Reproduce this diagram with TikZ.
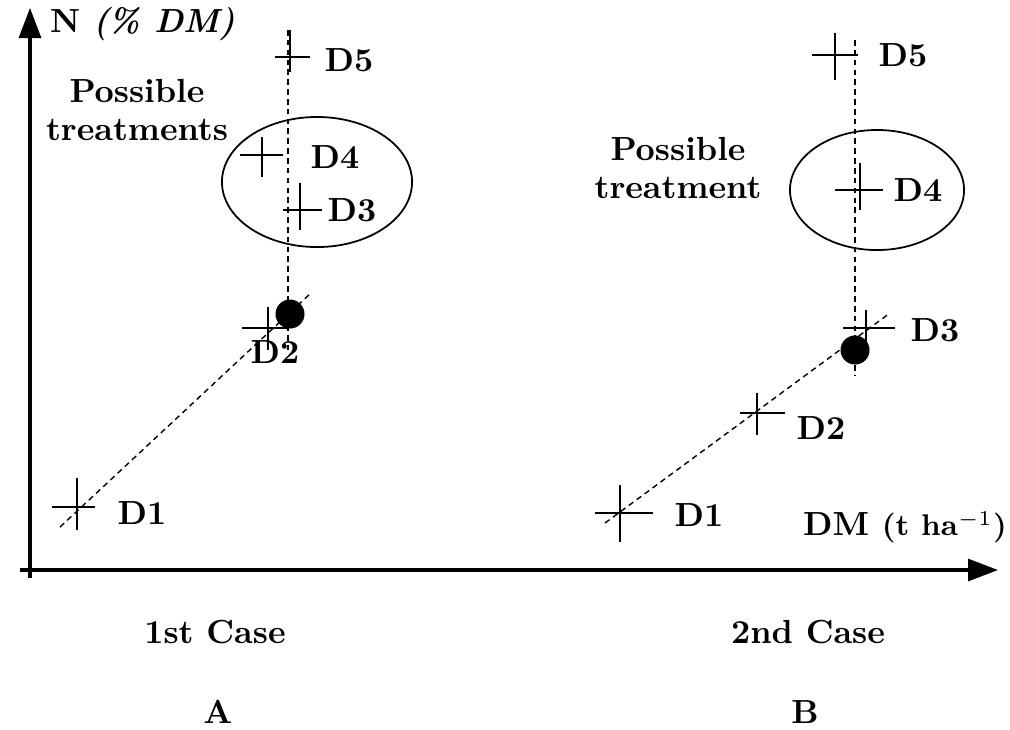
\documentclass[tikz,border=0pt]{standalone}
\usepackage{amsmath}
\usepackage{tikz}
\usetikzlibrary{arrows.meta,shapes.geometric}

\tikzset{
  axisline/.style={line width=0.9pt, -{Triangle[length=3mm,width=2.2mm]}},
  crossarm/.style={line width=0.45pt},
  guide/.style={line width=0.4pt, dash pattern=on 1.6pt off 1.2pt},
  ptlabel/.style={font=\fontsize{9.5}{11}\selectfont\bfseries, inner sep=1pt},
  txt/.style={font=\fontsize{9.5}{11}\selectfont\bfseries, align=center, inner sep=1pt},
  blob/.style={circle, fill, inner sep=0pt, minimum size=0.29cm},
  zone/.style={ellipse, draw, line width=0.5pt, inner sep=0pt}
}

\begin{document}
\begin{tikzpicture}[x=0.01cm, y=-0.01cm]
    \useasboundingbox (0,0) rectangle (1010,729);

        \coordinate (o) at (30,570);
        \coordinate (ytop) at (30,8);
        \coordinate (xstart) at (20,570);
        \coordinate (xend) at (998,570);
        \draw[axisline] (30,578) -- (ytop);
        \draw[axisline] (xstart) -- (xend);

        \node[txt, anchor=west] (ylab) at (46,24) {N \textit{(\% DM)}};
        \node[txt] (xlab) at (905,527) {DM {\fontsize{8.5}{10}\selectfont (t ha$^{-1}$)}};

        \node[zone, minimum width=1.9cm, minimum height=1.3cm] (setA) at (317,182) {};
        \node[zone, minimum width=1.74cm, minimum height=1.2cm] (setB) at (877,190) {};

        \coordinate (a1) at (77,507);
        \coordinate (a2) at (268,328);
        \coordinate (a3) at (300,210);
        \coordinate (a4) at (262,155);
        \coordinate (a5) at (290,57);
        \coordinate (atop) at (288,30);
        \coordinate (abot) at (288,350);
        \coordinate (alow) at (60,527);
        \coordinate (ahigh) at (312,292);
        \node[blob] (adot) at (290,314) {};

        \coordinate (b1) at (620,513);
        \coordinate (b2) at (757,413);
        \coordinate (b3) at (866,328);
        \coordinate (b4) at (860,190);
        \coordinate (b5) at (835,55);
        \coordinate (btop) at (855,40);
        \coordinate (bbot) at (855,375);
        \coordinate (blow) at (605,523);
        \coordinate (bhigh) at (890,313);
        \node[blob] (bdot) at (855,350) {};

        \draw[guide] (atop) -- (abot);
        \draw[guide] (alow) -- (ahigh);
        \draw[guide] (btop) -- (bbot);
        \draw[guide] (blow) -- (bhigh);

        \draw[crossarm] (a1) +(-25,0) -- +(18,0) +(0,-29) -- +(0,23);
        \draw[crossarm] (a2) +(-26,0) -- +(20,0) +(0,-21) -- +(0,22);
        \draw[crossarm] (a3) +(-17,0) -- +(22,0) +(0,-27) -- +(0,20);
        \draw[crossarm] (a4) +(-22,0) -- +(21,0) +(0,-18) -- +(0,22);
        \draw[crossarm] (a5) +(-15,0) -- +(20,0) +(0,-27) -- +(0,15);
        \draw[crossarm] (b1) +(-25,0) -- +(33,0) +(0,-28) -- +(0,29);
        \draw[crossarm] (b2) +(-17,0) -- +(28,0) +(0,-20) -- +(0,22);
        \draw[crossarm] (b3) +(-23,0) -- +(29,0) +(0,-18) -- +(0,17);
        \draw[crossarm] (b4) +(-25,0) -- +(23,0) +(0,-27) -- +(0,20);
        \draw[crossarm] (b5) +(-23,0) -- +(23,0) +(0,-22) -- +(0,25);

        \node[ptlabel] (la1) at (142,513) {D1};
        \node[ptlabel] (la2) at (275,352) {D2};
        \node[ptlabel] (la3) at (352,210) {D3};
        \node[ptlabel] (la4) at (335,157) {D4};
        \node[ptlabel] (la5) at (349,60) {D5};
        \node[ptlabel] (lb1) at (699,515) {D1};
        \node[ptlabel] (lb2) at (821,428) {D2};
        \node[ptlabel] (lb3) at (935,330) {D3};
        \node[ptlabel] (lb4) at (918,190) {D4};
        \node[ptlabel] (lb5) at (903,55) {D5};

        \node[txt] (treatA) at (137,110) {Possible\\treatments};
        \node[txt] (treatB) at (678,168) {Possible\\treatment};

        \node[txt] (caseA) at (215,632) {1st Case};
        \node[txt] (caseB) at (808,632) {2nd Case};
        \node[txt] (panelA) at (218,712) {A};
        \node[txt] (panelB) at (805,712) {B};
    \end{tikzpicture}
\end{document}
